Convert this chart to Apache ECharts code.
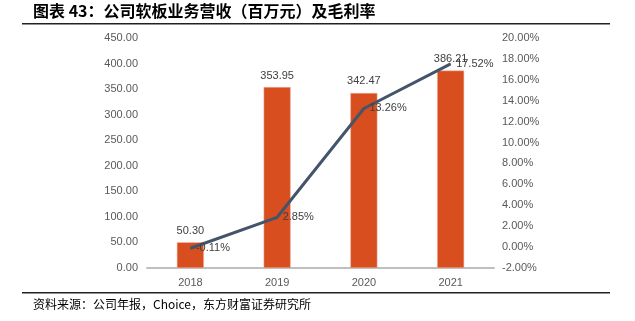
<!DOCTYPE html>
<html><head><meta charset="utf-8">
<script src="https://cdn.jsdelivr.net/npm/echarts@6/dist/echarts.min.js"></script>
<style>html,body{margin:0;padding:0;background:#fff}#c{width:635px;height:321px}</style>
</head><body><div id="c"></div>
<script>
const categories = ['2018', '2019', '2020', '2021'];
const revenue = [50.30, 353.95, 342.47, 386.21];
const margin = [-0.11, 2.85, 13.26, 17.52];
const titleText = '图表 43：公司软板业务营收（百万元）及毛利率';
const sourceText = '资料来源：公司年报，Choice，东方财富证券研究所';

const chart = echarts.init(document.getElementById('c'), null, {renderer: 'canvas'});
const lblFont = '"Liberation Sans", Arial, sans-serif';
chart.setOption({
  animation: false,
  backgroundColor: '#fff',
  grid: {left: 147, right: 141, top: 38, bottom: 53},
  graphic: [
    {type: 'text', left: 33, top: 3, style: {text: titleText, font: 'bold 16px "Noto Sans CJK SC"', fill: '#000'}},
    {type: 'rect', shape: {x: 22, y: 23, width: 588, height: 1.5}, style: {fill: '#222'}},
    {type: 'rect', shape: {x: 22, y: 292, width: 588, height: 1.5}, style: {fill: '#222'}},
    {type: 'text', left: 33, top: 298, style: {text: sourceText, font: '12px "Noto Sans CJK SC"', fill: '#000'}}
  ],
  xAxis: {
    type: 'category', data: categories,
    axisLine: {lineStyle: {color: '#BFBFBF', width: 2}},
    axisTick: {show: false},
    axisLabel: {color: '#595959', fontSize: 11, fontFamily: lblFont, margin: 9}
  },
  yAxis: [
    {type: 'value', min: 0, max: 450, interval: 50,
     axisLine: {show: false}, axisTick: {show: false}, splitLine: {show: false},
     axisLabel: {color: '#595959', fontSize: 11, fontFamily: lblFont, margin: 9, formatter: v => v.toFixed(2)}},
    {type: 'value', min: -2, max: 20, interval: 2,
     axisLine: {show: false}, axisTick: {show: false}, splitLine: {show: false},
     axisLabel: {color: '#595959', fontSize: 11, fontFamily: lblFont, margin: 8, formatter: v => v.toFixed(2) + '%'}}
  ],
  series: [
    {type: 'bar', data: revenue, barWidth: 27, yAxisIndex: 0,
     itemStyle: {color: '#D94E1F', borderColor: '#E8B9A8', borderWidth: 0.5},
     label: {show: true, position: 'top', distance: 6, color: '#404040', fontSize: 11, fontFamily: lblFont,
             formatter: p => p.value.toFixed(2)}},
    {type: 'line', data: margin, yAxisIndex: 1, symbol: 'circle', symbolSize: 1, showSymbol: true,
     itemStyle: {color: '#44546A'},
     lineStyle: {color: '#44546A', width: 3},
     labelLayout: {hideOverlap: false},
     label: {show: true, position: 'right', distance: 5, color: '#404040', fontSize: 11, fontFamily: lblFont,
             formatter: p => p.value.toFixed(2) + '%'}}
  ]
});
</script></body></html>
